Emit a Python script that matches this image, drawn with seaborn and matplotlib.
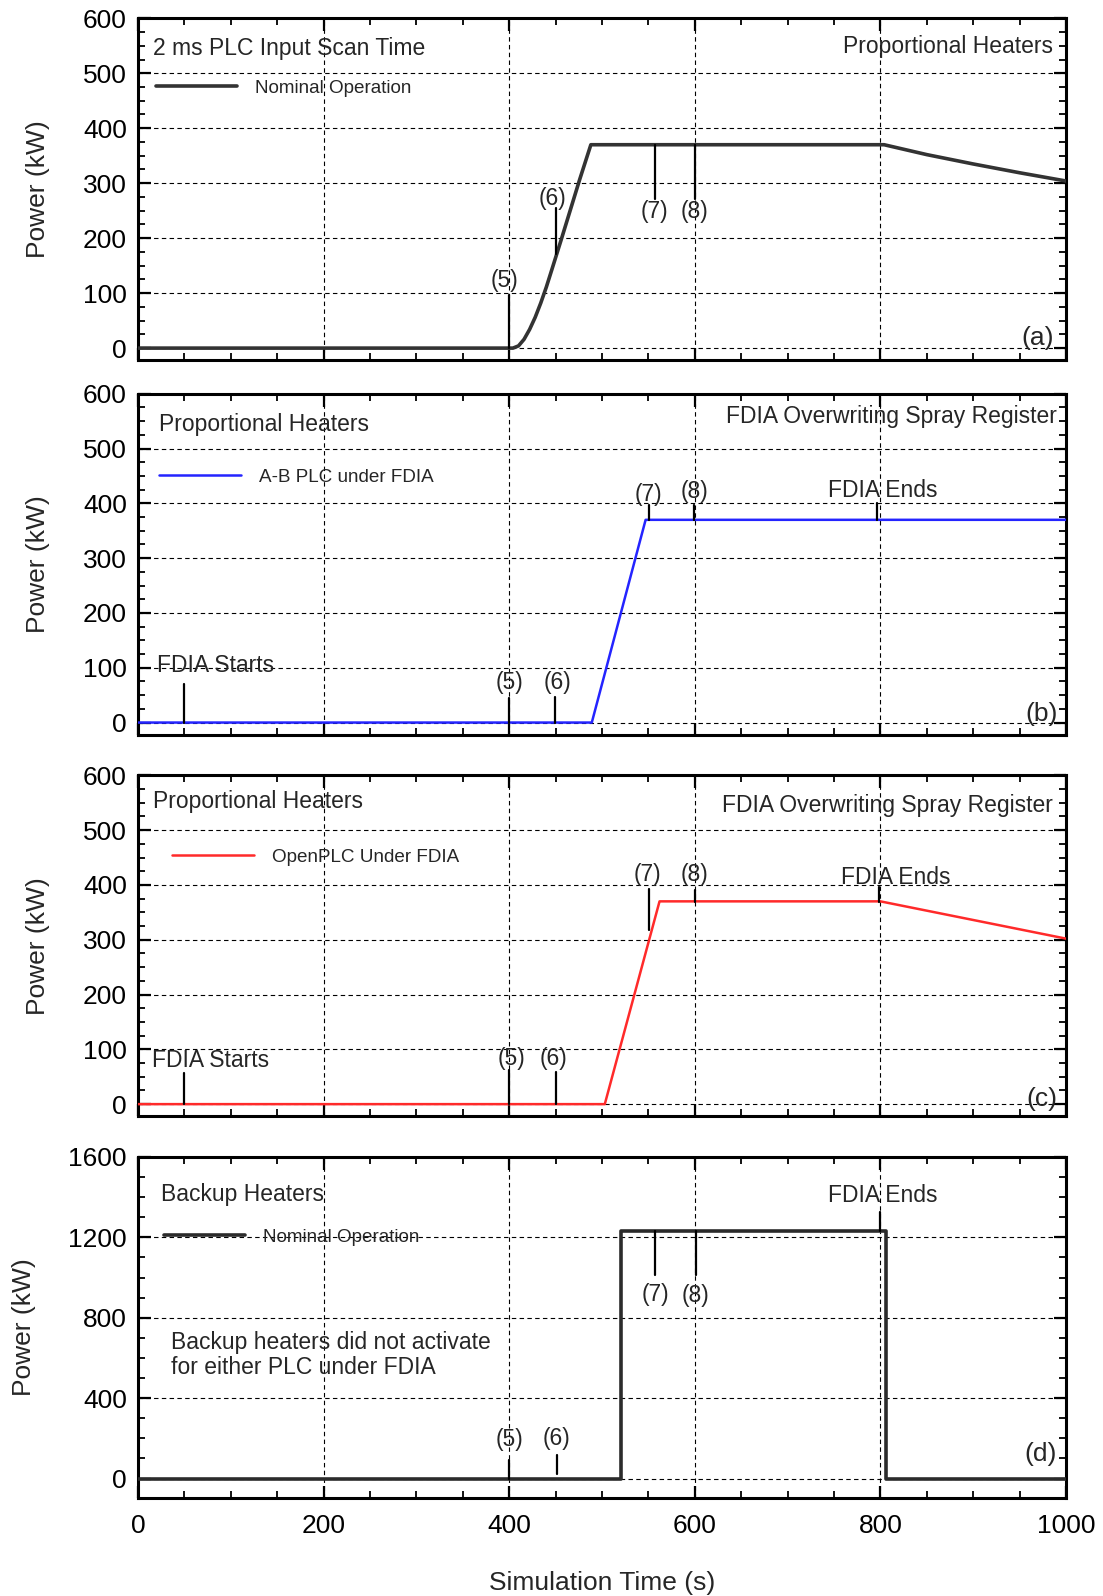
import numpy as np
import pandas as pd
import matplotlib
matplotlib.use("Agg")
import matplotlib.pyplot as plt
import seaborn as sns
from matplotlib.ticker import MultipleLocator

# panel (a): nominal operation, proportional heaters
time_a = [0, 404, 410, 416, 422, 428, 434, 440, 446, 456, 466, 476, 488,
          804, 850, 900, 950, 1000]
power_a = [0, 0, 4, 16, 34, 56, 82, 111, 143, 197, 252, 307, 370,
           370, 352, 335, 319, 304]

# panel (b): A-B PLC under FDIA
time_b = [0, 489, 547, 1000]
power_b = [0, 0, 370, 370]

# panel (c): OpenPLC under FDIA
time_c = [0, 503, 562, 800, 1000]
power_c = [0, 0, 370, 370, 302]

# panel (d): backup heaters, nominal operation
time_d = [0, 521, 521, 806, 806, 1000]
power_d = [0, 0, 1233, 1233, 0, 0]

# event markers: (label, time, line from, line to, label x, label y)
events_a = [("(5)", 400, 0, 96, 395, 123),
            ("(6)", 450, 172, 255, 447, 273),
            ("(7)", 557, 272, 370, 557, 248),
            ("(8)", 600, 272, 370, 600, 248)]
events_b = [("(5)", 400, 0, 44, 400, 74),
            ("(6)", 449, 0, 47, 452, 74),
            ("(7)", 551, 370, 397, 550, 417),
            ("(8)", 599, 370, 397, 600, 422),
            ("FDIA Ends", 796, 370, 400, 803, 423)]
events_c = [("(5)", 400, 0, 62, 402, 83),
            ("(6)", 450, 0, 59, 448, 83),
            ("(7)", 551, 318, 393, 549, 419),
            ("(8)", 600, 369, 390, 600, 419),
            ("FDIA Ends", 799, 369, 396, 817, 414)]
events_d = [("(5)", 400, 0, 94, 400, 193),
            ("(6)", 452, 20, 119, 451, 201),
            ("(7)", 557, 1010, 1233, 558, 916),
            ("(8)", 601, 1010, 1233, 601, 911),
            ("FDIA Ends", 800, 1233, 1328, 803, 1406)]
fdia_start_b = (50, 0, 70, 21, 104)
fdia_start_c = (50, 0, 56, 15, 80)

sns.set_style("ticks")
plt.rcParams['font.family'] = ['Liberation Sans', 'DejaVu Sans']

W, H = 1103, 1596
fig = plt.figure(figsize=(W / 100, H / 100), dpi=100)

left = 138 / W
width = (1066 - 138) / W
panel_px = [(18.3, 360.2), (393.8, 734.6), (775.3, 1116.2), (1156.9, 1497.8)]
axes = []
for top, bot in panel_px:
    axes.append(fig.add_axes([left, 1 - bot / H, width, (bot - top) / H]))

GRID = dict(color='black', linestyle=(0, (4, 3)), linewidth=0.8)
FS_TICK = 19
FS_TXT = 16.5
FS_LEG = 13.6


def style_axis(ax, ylim, ymajor, yminor, show_x):
    ax.set_xlim(0, 1000)
    ax.set_ylim(*ylim)
    ax.xaxis.set_major_locator(MultipleLocator(200))
    ax.xaxis.set_minor_locator(MultipleLocator(50))
    ax.yaxis.set_major_locator(MultipleLocator(ymajor))
    ax.yaxis.set_minor_locator(MultipleLocator(yminor))
    ax.tick_params(which='both', direction='in', top=True, right=True,
                   labelsize=FS_TICK, pad=8, colors='black')
    ax.tick_params(axis='x', which='both', pad=11.5)
    ax.tick_params(which='major', length=9, width=1.6)
    ax.tick_params(which='minor', length=5, width=1.3)
    if not show_x:
        ax.tick_params(axis='x', labelbottom=False)
    for sp in ax.spines.values():
        sp.set_linewidth(2.2)
        sp.set_color('black')
    ax.grid(True, which='major', **GRID)
    ax.set_axisbelow(True)
    ax.set_ylabel('Power (kW)', fontsize=19, labelpad=23.5)
    ax.set_xlabel('')


def draw_events(ax, events):
    for label, t, y0, y1, tx, ty in events:
        ax.plot([t, t], [y0, y1], color='black', lw=1.6, zorder=4)
        ax.text(tx, ty, label, fontsize=FS_TXT, ha='center', va='center', zorder=5)


def add_legend(ax, anchor, handle_len):
    ax.legend(loc='center left', bbox_to_anchor=anchor, frameon=False,
              fontsize=FS_LEG, handlelength=handle_len, handletextpad=0.95,
              borderpad=0, borderaxespad=0)


# (a)
ax = axes[0]
df_a = pd.DataFrame({'t': time_a, 'p': power_a})
sns.lineplot(data=df_a, x='t', y='p', ax=ax, color='#333333', lw=2.6,
             estimator=None, sort=False, label='Nominal Operation', zorder=3)
style_axis(ax, (-22, 600), 100, 25, False)
add_legend(ax, (0.019, 0.796), 4.3)
draw_events(ax, events_a)
ax.text(16.5, 545, '2 ms PLC Input Scan Time', fontsize=FS_TXT, ha='left', va='center')
ax.text(985.5, 549, 'Proportional Heaters', fontsize=FS_TXT, ha='right', va='center')
ax.text(987, 18, '(a)', fontsize=FS_TICK, ha='right', va='center')

# (b)
ax = axes[1]
df_b = pd.DataFrame({'t': time_b, 'p': power_b})
sns.lineplot(data=df_b, x='t', y='p', ax=ax, color='#2424ff', lw=1.8,
             estimator=None, sort=False, label='A-B PLC under FDIA', zorder=3)
style_axis(ax, (-22, 600), 100, 25, False)
add_legend(ax, (0.023, 0.756), 4.3)
draw_events(ax, events_b)
t, y0, y1, tx, ty = fdia_start_b
ax.plot([t, t], [y0, y1], color='black', lw=1.6, zorder=4)
ax.text(tx, ty, 'FDIA Starts', fontsize=FS_TXT, ha='left', va='center')
ax.text(23, 544, 'Proportional Heaters', fontsize=FS_TXT, ha='left', va='center')
ax.text(990, 558, 'FDIA Overwriting Spray Register', fontsize=FS_TXT, ha='right', va='center')
ax.text(991, 16, '(b)', fontsize=FS_TICK, ha='right', va='center')

# (c)
ax = axes[2]
df_c = pd.DataFrame({'t': time_c, 'p': power_c})
sns.lineplot(data=df_c, x='t', y='p', ax=ax, color='#ff2a2a', lw=1.8,
             estimator=None, sort=False, label='OpenPLC Under FDIA', zorder=3)
style_axis(ax, (-22, 600), 100, 25, False)
add_legend(ax, (0.037, 0.760), 4.3)
draw_events(ax, events_c)
t, y0, y1, tx, ty = fdia_start_c
ax.plot([t, t], [y0, y1], color='black', lw=1.6, zorder=4)
ax.text(tx, ty, 'FDIA Starts', fontsize=FS_TXT, ha='left', va='center')
ax.text(16, 553, 'Proportional Heaters', fontsize=FS_TXT, ha='left', va='center')
ax.text(986, 545, 'FDIA Overwriting Spray Register', fontsize=FS_TXT, ha='right', va='center')
ax.text(991, 10, '(c)', fontsize=FS_TICK, ha='right', va='center')

# (d)
ax = axes[3]
df_d = pd.DataFrame({'t': time_d, 'p': power_d})
sns.lineplot(data=df_d, x='t', y='p', ax=ax, color='#2b2b2b', lw=2.6,
             estimator=None, sort=False, label='Nominal Operation', zorder=3)
style_axis(ax, (-96, 1600), 400, 100, True)
add_legend(ax, (0.028, 0.764), 4.3)
draw_events(ax, events_d)
ax.text(24.6, 1414, 'Backup Heaters', fontsize=FS_TXT, ha='left', va='center')
ax.text(36, 615, 'Backup heaters did not activate\nfor either PLC under FDIA',
        fontsize=FS_TXT, ha='left', va='center', linespacing=1.15)
ax.text(990, 124, '(d)', fontsize=FS_TICK, ha='right', va='center')
ax.set_xlabel('Simulation Time (s)', fontsize=19, labelpad=24)

fig.savefig('out.png', dpi=100)
